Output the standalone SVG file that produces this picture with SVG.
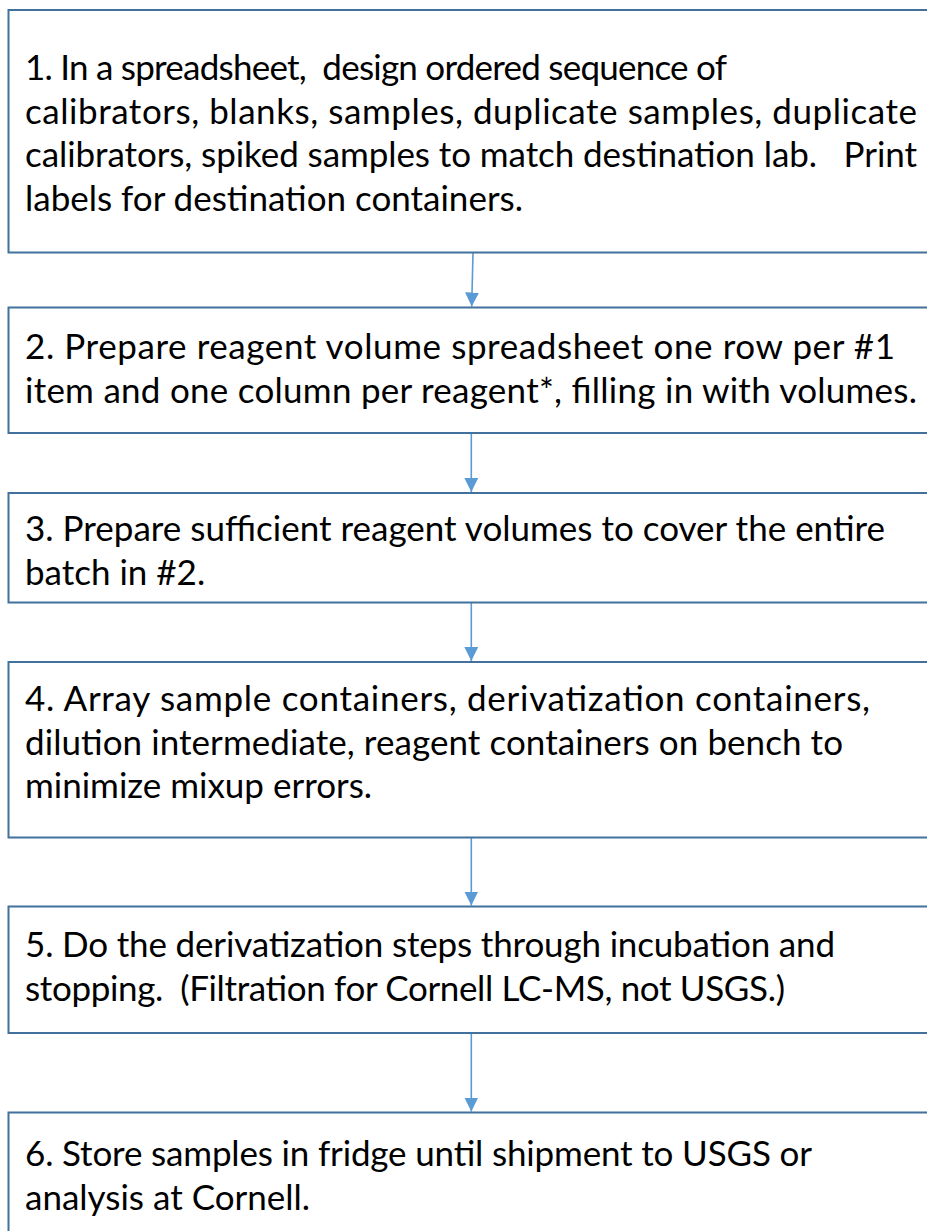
<svg xmlns="http://www.w3.org/2000/svg" width="927" height="1231" viewBox="0 0 927 1231">
  <style>
    .box { fill: #ffffff; stroke: #41719c; stroke-width: 2; }
    .txt { font-family: Lato, "Liberation Sans", sans-serif; font-size: 35px; fill: #000000; }
    .link { stroke: #5b9bd5; stroke-width: 1.6; fill: none; }
  </style>
  <defs>
    <marker id="arrow" markerUnits="userSpaceOnUse" markerWidth="16" markerHeight="16" refX="14" refY="7" orient="auto">
      <path d="M0,0 L14,7 L0,14 Z" fill="#5b9bd5"/>
    </marker>
  </defs>
  <rect width="927" height="1231" fill="#ffffff"/>

  <g id="connectors">
    <line class="link" x1="473" y1="252.5" x2="471.7" y2="306.5" marker-end="url(#arrow)"/>
    <line class="link" x1="471.3" y1="433" x2="471.3" y2="492" marker-end="url(#arrow)"/>
    <line class="link" x1="471.3" y1="602.5" x2="471.3" y2="661" marker-end="url(#arrow)"/>
    <line class="link" x1="471.3" y1="837.5" x2="471.3" y2="905.5" marker-end="url(#arrow)"/>
    <line class="link" x1="471.3" y1="1033" x2="471.3" y2="1111.5" marker-end="url(#arrow)"/>
  </g>

  <g id="step1">
    <rect class="box" x="8.5" y="10" width="940" height="242.5"/>
    <text class="txt" x="25" y="80" textLength="702" xml:space="preserve">1. In a spreadsheet,  design ordered sequence of</text>
    <text class="txt" x="25" y="123.5" textLength="892">calibrators, blanks, samples, duplicate samples, duplicate</text>
    <text class="txt" x="25" y="167" textLength="892" xml:space="preserve">calibrators, spiked samples to match destination lab.   Print</text>
    <text class="txt" x="25" y="210.5">labels for destination containers.</text>
  </g>

  <g id="step2">
    <rect class="box" x="8.5" y="307.5" width="940" height="125.5"/>
    <text class="txt" x="25" y="359" textLength="870">2. Prepare reagent volume spreadsheet one row per #1</text>
    <text class="txt" x="25" y="402.5" textLength="892">item and one column per reagent*, filling in with volumes.</text>
  </g>

  <g id="step3">
    <rect class="box" x="8.5" y="493" width="940" height="109.5"/>
    <text class="txt" x="25" y="541" textLength="860">3. Prepare sufficient reagent volumes to cover the entire</text>
    <text class="txt" x="25" y="584.5">batch in #2.</text>
  </g>

  <g id="step4">
    <rect class="box" x="8.5" y="662" width="940" height="175.5"/>
    <text class="txt" x="25" y="711" textLength="845">4. Array sample containers, derivatization containers,</text>
    <text class="txt" x="25" y="754.5" textLength="818">dilution intermediate, reagent containers on bench to</text>
    <text class="txt" x="25" y="798">minimize mixup errors.</text>
  </g>

  <g id="step5">
    <rect class="box" x="8.5" y="906.5" width="940" height="126.5"/>
    <text class="txt" x="25" y="957" textLength="810">5. Do the derivatization steps through incubation and</text>
    <text class="txt" x="25" y="1000.5" textLength="760" xml:space="preserve">stopping.  (Filtration for Cornell LC-MS, not USGS.)</text>
  </g>

  <g id="step6">
    <rect class="box" x="8.5" y="1112.5" width="940" height="200"/>
    <text class="txt" x="25" y="1166" textLength="787">6. Store samples in fridge until shipment to USGS or</text>
    <text class="txt" x="25" y="1209.5">analysis at Cornell.</text>
  </g>
</svg>
